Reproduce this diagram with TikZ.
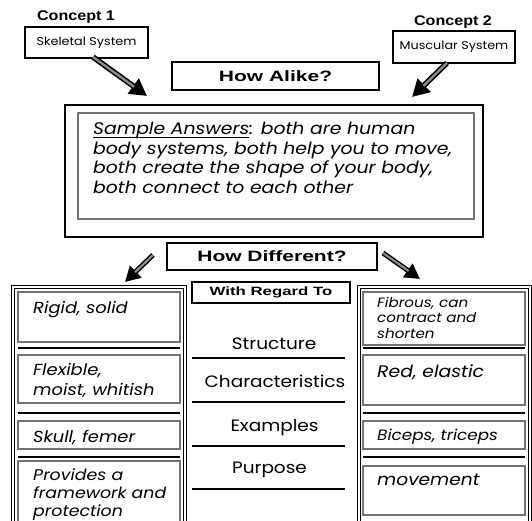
\documentclass[tikz,border=0pt]{standalone}
\usepackage{fontspec}
\setmainfont{Poppins}[FakeStretch=1.12]
\newfontfamily\hdA{Liberation Sans}[FakeStretch=1.15]
\newfontfamily\hdB{Liberation Sans}[FakeStretch=1.4]
\usetikzlibrary{arrows.meta}
\newlength\myulw
\newcommand\myul[1]{\settowidth{\myulw}{#1}\rlap{\rule[-2.3pt]{\myulw}{0.75pt}}#1}
\begin{document}
\begin{tikzpicture}[x=1pt,y=-1pt,
  box/.style={draw=black, line width=1.8pt, inner sep=0pt},
  outerbox/.style={draw=black, line width=2pt, inner sep=0pt},
  colbox/.style={draw=black, line width=1.1pt, double=white, double distance=1.2pt, inner sep=0pt},
  gbox/.style={draw=black!55, line width=1.1pt, inner sep=0pt},
  sep/.style={draw=black, line width=2.4pt},
  midline/.style={draw=black, line width=2pt},
  lbl/.style={inner sep=0pt, anchor=base west, align=left},
  mid/.style={inner sep=0pt, anchor=base, font=\fontsize{16.5}{19}\selectfont},
  fatarrow/.style={draw=black, line width=5.5pt, -{Triangle[length=17pt,width=18pt]},
    postaction={draw=black!45, line width=2.4pt, -, shorten >=16pt}},
  fatarrowsm/.style={draw=black, line width=5pt, -{Triangle[length=15pt,width=16pt]},
    postaction={draw=black!45, line width=2.2pt, -, shorten >=14pt}}
]
\useasboundingbox (0,0) rectangle (532,521);
\clip (0,0) rectangle (532,521);

% concepts
\node[inner sep=0pt, font=\hdA\bfseries\fontsize{14}{16}\selectfont] (k1) at (76,17) {Concept 1};
\node[inner sep=0pt, font=\hdA\bfseries\fontsize{14}{16}\selectfont] (k2) at (453,22) {Concept 2};
\node[box, minimum width=123pt, minimum height=31pt, font=\fontsize{11.4}{13}\selectfont] (c1) at (86.5,42.5) {Skeletal System};
\node[box, minimum width=122pt, minimum height=32pt, font=\fontsize{11.4}{13}\selectfont] (c2) at (454,47) {Muscular System};

% How alike
\node[box, minimum width=207pt, minimum height=28pt, font=\hdB\bfseries\fontsize{15}{17}\selectfont] (alike) at (275.5,76) {How Alike?};
\node[outerbox, minimum width=418pt, minimum height=132pt] (same) at (274,171) {};
\node[gbox, minimum width=396pt, minimum height=106pt] (samein) at (276,166) {};
\node[lbl, font=\itshape\fontsize{16.8}{19.5}\selectfont] (sametxt) at (93,193.5)
  {\myul{Sample Answers}: both are human\\body systems, both help you to move,\\both create the shape of your body,\\both connect to each other};

% arrows to same
\coordinate (a1s) at (93,57);
\coordinate (a1e) at (147,96);
\coordinate (a2s) at (447,63);
\coordinate (a2e) at (412,97);
\draw[fatarrow] (a1s) -- (a1e);
\draw[fatarrow] (a2s) -- (a2e);

% How different
\node[box, minimum width=210pt, minimum height=27pt, font=\hdB\bfseries\fontsize{15}{17}\selectfont] (diff) at (272,256.5) {How Different?};
\node[box, minimum width=158pt, minimum height=21pt, font=\hdB\bfseries\fontsize{12}{14}\selectfont] (regard) at (271,292.5) {With Regard To};
\coordinate (a3s) at (153,255);
\coordinate (a3e) at (125,282);
\coordinate (a4s) at (383,253);
\coordinate (a4e) at (420,279);
\draw[fatarrowsm] (a3s) -- (a3e);
\draw[fatarrowsm] (a4s) -- (a4e);

% columns
\node[colbox, minimum width=172pt, minimum height=243pt] (lcol) at (99,408.5) {};
\node[colbox, minimum width=171pt, minimum height=243pt] (rcol) at (444.5,408.5) {};

% left rows
\node[gbox, minimum width=162pt, minimum height=50pt] (l1) at (99,317) {};
\node[gbox, minimum width=162pt, minimum height=48pt] (l2) at (99,379) {};
\node[gbox, minimum width=162pt, minimum height=28pt] (l3) at (99,435) {};
\node[gbox, minimum width=162pt, minimum height=70pt] (l4) at (99,496) {};
% right rows
\node[gbox, minimum width=162pt, minimum height=53pt] (r1) at (444,318.5) {};
\node[gbox, minimum width=162pt, minimum height=50pt] (r2) at (444,380) {};
\node[gbox, minimum width=162pt, minimum height=28pt] (r3) at (444,435) {};
\node[gbox, minimum width=162pt, minimum height=49pt] (r4) at (444,490.5) {};

% separators
\foreach \yy in {348,413,457}{
  \draw[sep] (18,\yy) -- (180,\yy);
  \draw[sep] (363,\yy) -- (525,\yy);
}

% left texts
\node[lbl, font=\itshape\fontsize{16}{19}\selectfont] (lt1) at (33,313) {Rigid, solid};
\node[lbl, font=\itshape\fontsize{16}{20}\selectfont] (lt2) at (33,395) {Flexible,\\moist, whitish};
\node[lbl, font=\itshape\fontsize{16}{19}\selectfont] (lt3) at (33,442) {Skull, femer};
\node[lbl, font=\itshape\fontsize{15.5}{18}\selectfont] (lt4) at (33,516) {Provides a\\framework and\\protection};

% right texts
\node[lbl, font=\itshape\fontsize{13.5}{15.5}\selectfont] (rt1) at (377,338) {Fibrous, can\\contract and\\shorten};
\node[lbl, font=\itshape\fontsize{16.8}{19}\selectfont] (rt2) at (377,377) {Red, elastic};
\node[lbl, font=\itshape\fontsize{15}{17}\selectfont] (rt3) at (377,440) {Biceps, triceps};
\node[lbl, font=\itshape\fontsize{16.6}{19}\selectfont] (rt4) at (377,485) {movement};

% middle
\node[mid] (m1) at (274,349) {Structure};
\node[mid] (m2) at (275,387) {Characteristics};
\node[mid] (m3) at (274.5,431) {Examples};
\node[mid] (m4) at (269.5,473) {Purpose};
\foreach \yy in {358,402,446,489}{
  \draw[midline] (192,\yy) -- (345,\yy);
}
\end{tikzpicture}
\end{document}
